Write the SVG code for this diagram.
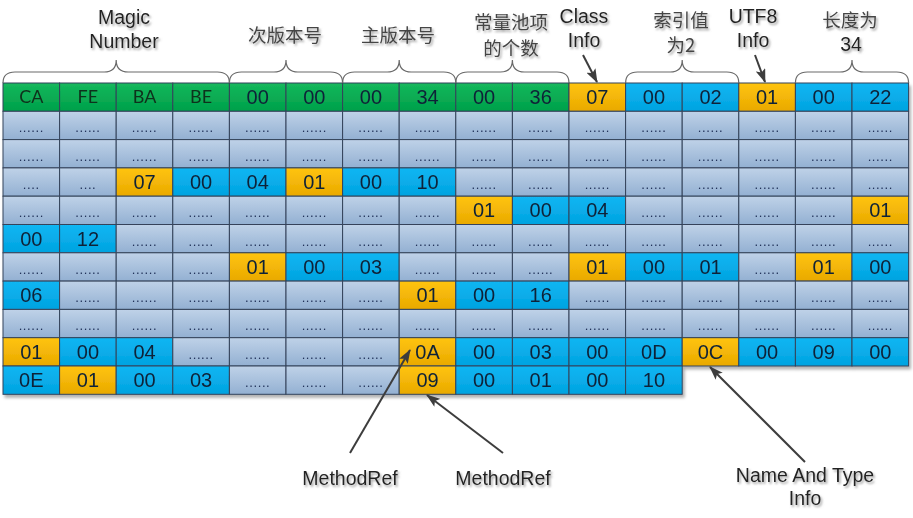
<svg xmlns="http://www.w3.org/2000/svg" width="913" height="518" viewBox="0 0 913 518">
<defs>
<linearGradient id="gg" x1="0" y1="0" x2="0" y2="1"><stop offset="0" stop-color="#BFD2E8"/><stop offset="1" stop-color="#93B0D2"/></linearGradient>
<linearGradient id="gG" x1="0" y1="0" x2="0" y2="1"><stop offset="0" stop-color="#14B85C"/><stop offset="1" stop-color="#00A04A"/></linearGradient>
<linearGradient id="gO" x1="0" y1="0" x2="0" y2="1"><stop offset="0" stop-color="#FFC410"/><stop offset="1" stop-color="#E9A900"/></linearGradient>
<linearGradient id="gB" x1="0" y1="0" x2="0" y2="1"><stop offset="0" stop-color="#12B6F3"/><stop offset="1" stop-color="#00A3E0"/></linearGradient>
<filter id="sh" x="-2%" y="-2%" width="104%" height="106%"><feDropShadow dx="2" dy="3" stdDeviation="1.5" flood-color="#000" flood-opacity="0.3"/></filter>
<filter id="ts" x="-10%" y="-20%" width="130%" height="160%"><feDropShadow dx="1.5" dy="2" stdDeviation="0.8" flood-color="#888" flood-opacity="0.8"/></filter>
<marker id="ah" viewBox="0 0 14 10" refX="13" refY="5" markerWidth="14" markerHeight="10" markerUnits="userSpaceOnUse" orient="auto"><path d="M0,0 L14,5 L0,10 L3,5 z" fill="#3d3d3d"/></marker>
<style>
rect.c{width:56.6px;height:28.3px;stroke:#34435a;stroke-width:1}
.g{fill:url(#gg)}.gr{fill:url(#gG)}.o{fill:url(#gO)}.b{fill:url(#gB)}
text{font-family:"Liberation Sans",Arial,sans-serif;text-anchor:middle}
text.n{font-size:20px;fill:#0f2238}
text.h{font-family:Lato,"Liberation Sans",sans-serif;font-size:18px;fill:#10301c}
text.d{font-size:13px;letter-spacing:0.6px;fill:#22335a}
.lab text{font-size:19.5px;fill:#222}
.lab text.cjk{font-family:"Noto Sans CJK SC","Liberation Sans",sans-serif;font-size:18.5px;fill:#444}
.lab{filter:url(#ts)}
.brace path{fill:none;stroke:#6a6a6a;stroke-width:1.2}
.conn line{stroke:#3d3d3d;stroke-width:2;marker-end:url(#ah)}
</style>
</defs>
<rect width="913" height="518" fill="#fff"/>

<g id="grid" filter="url(#sh)">
<g id="row0" transform="translate(0,83)">
<g id="r0c0"><rect class="c gr" x="3"/><text class="h" x="31.3" y="20.3">CA</text></g>
<g id="r0c1"><rect class="c gr" x="59.6"/><text class="h" x="87.9" y="20.3">FE</text></g>
<g id="r0c2"><rect class="c gr" x="116.2"/><text class="h" x="144.5" y="20.3">BA</text></g>
<g id="r0c3"><rect class="c gr" x="172.8"/><text class="h" x="201.1" y="20.3">BE</text></g>
<g id="r0c4"><rect class="c gr" x="229.4"/><text class="n" x="257.7" y="21.2">00</text></g>
<g id="r0c5"><rect class="c gr" x="286"/><text class="n" x="314.3" y="21.2">00</text></g>
<g id="r0c6"><rect class="c gr" x="342.6"/><text class="n" x="370.9" y="21.2">00</text></g>
<g id="r0c7"><rect class="c gr" x="399.2"/><text class="n" x="427.5" y="21.2">34</text></g>
<g id="r0c8"><rect class="c gr" x="455.8"/><text class="n" x="484.1" y="21.2">00</text></g>
<g id="r0c9"><rect class="c gr" x="512.4"/><text class="n" x="540.7" y="21.2">36</text></g>
<g id="r0c10"><rect class="c o" x="569"/><text class="n" x="597.3" y="21.2">07</text></g>
<g id="r0c11"><rect class="c b" x="625.6"/><text class="n" x="653.9" y="21.2">00</text></g>
<g id="r0c12"><rect class="c b" x="682.2"/><text class="n" x="710.5" y="21.2">02</text></g>
<g id="r0c13"><rect class="c o" x="738.8"/><text class="n" x="767.1" y="21.2">01</text></g>
<g id="r0c14"><rect class="c b" x="795.4"/><text class="n" x="823.7" y="21.2">00</text></g>
<g id="r0c15"><rect class="c b" x="852"/><text class="n" x="880.3" y="21.2">22</text></g>
</g>
<g id="row1" transform="translate(0,111.3)">
<g id="r1c0"><rect class="c g" x="3"/><text class="d" x="31.3" y="21">......</text></g>
<g id="r1c1"><rect class="c g" x="59.6"/><text class="d" x="87.9" y="21">......</text></g>
<g id="r1c2"><rect class="c g" x="116.2"/><text class="d" x="144.5" y="21">......</text></g>
<g id="r1c3"><rect class="c g" x="172.8"/><text class="d" x="201.1" y="21">......</text></g>
<g id="r1c4"><rect class="c g" x="229.4"/><text class="d" x="257.7" y="21">......</text></g>
<g id="r1c5"><rect class="c g" x="286"/><text class="d" x="314.3" y="21">......</text></g>
<g id="r1c6"><rect class="c g" x="342.6"/><text class="d" x="370.9" y="21">......</text></g>
<g id="r1c7"><rect class="c g" x="399.2"/><text class="d" x="427.5" y="21">......</text></g>
<g id="r1c8"><rect class="c g" x="455.8"/><text class="d" x="484.1" y="21">......</text></g>
<g id="r1c9"><rect class="c g" x="512.4"/><text class="d" x="540.7" y="21">......</text></g>
<g id="r1c10"><rect class="c g" x="569"/><text class="d" x="597.3" y="21">......</text></g>
<g id="r1c11"><rect class="c g" x="625.6"/><text class="d" x="653.9" y="21">......</text></g>
<g id="r1c12"><rect class="c g" x="682.2"/><text class="d" x="710.5" y="21">......</text></g>
<g id="r1c13"><rect class="c g" x="738.8"/><text class="d" x="767.1" y="21">......</text></g>
<g id="r1c14"><rect class="c g" x="795.4"/><text class="d" x="823.7" y="21">......</text></g>
<g id="r1c15"><rect class="c g" x="852"/><text class="d" x="880.3" y="21">......</text></g>
</g>
<g id="row2" transform="translate(0,139.6)">
<g id="r2c0"><rect class="c g" x="3"/><text class="d" x="31.3" y="21">......</text></g>
<g id="r2c1"><rect class="c g" x="59.6"/><text class="d" x="87.9" y="21">......</text></g>
<g id="r2c2"><rect class="c g" x="116.2"/><text class="d" x="144.5" y="21">......</text></g>
<g id="r2c3"><rect class="c g" x="172.8"/><text class="d" x="201.1" y="21">......</text></g>
<g id="r2c4"><rect class="c g" x="229.4"/><text class="d" x="257.7" y="21">......</text></g>
<g id="r2c5"><rect class="c g" x="286"/><text class="d" x="314.3" y="21">......</text></g>
<g id="r2c6"><rect class="c g" x="342.6"/><text class="d" x="370.9" y="21">......</text></g>
<g id="r2c7"><rect class="c g" x="399.2"/><text class="d" x="427.5" y="21">......</text></g>
<g id="r2c8"><rect class="c g" x="455.8"/><text class="d" x="484.1" y="21">......</text></g>
<g id="r2c9"><rect class="c g" x="512.4"/><text class="d" x="540.7" y="21">......</text></g>
<g id="r2c10"><rect class="c g" x="569"/><text class="d" x="597.3" y="21">......</text></g>
<g id="r2c11"><rect class="c g" x="625.6"/><text class="d" x="653.9" y="21">......</text></g>
<g id="r2c12"><rect class="c g" x="682.2"/><text class="d" x="710.5" y="21">......</text></g>
<g id="r2c13"><rect class="c g" x="738.8"/><text class="d" x="767.1" y="21">......</text></g>
<g id="r2c14"><rect class="c g" x="795.4"/><text class="d" x="823.7" y="21">......</text></g>
<g id="r2c15"><rect class="c g" x="852"/><text class="d" x="880.3" y="21">......</text></g>
</g>
<g id="row3" transform="translate(0,167.9)">
<g id="r3c0"><rect class="c g" x="3"/><text class="d" x="31.3" y="21">....</text></g>
<g id="r3c1"><rect class="c g" x="59.6"/><text class="d" x="87.9" y="21">....</text></g>
<g id="r3c2"><rect class="c o" x="116.2"/><text class="n" x="144.5" y="21.2">07</text></g>
<g id="r3c3"><rect class="c b" x="172.8"/><text class="n" x="201.1" y="21.2">00</text></g>
<g id="r3c4"><rect class="c b" x="229.4"/><text class="n" x="257.7" y="21.2">04</text></g>
<g id="r3c5"><rect class="c o" x="286"/><text class="n" x="314.3" y="21.2">01</text></g>
<g id="r3c6"><rect class="c b" x="342.6"/><text class="n" x="370.9" y="21.2">00</text></g>
<g id="r3c7"><rect class="c b" x="399.2"/><text class="n" x="427.5" y="21.2">10</text></g>
<g id="r3c8"><rect class="c g" x="455.8"/><text class="d" x="484.1" y="21">......</text></g>
<g id="r3c9"><rect class="c g" x="512.4"/><text class="d" x="540.7" y="21">......</text></g>
<g id="r3c10"><rect class="c g" x="569"/><text class="d" x="597.3" y="21">......</text></g>
<g id="r3c11"><rect class="c g" x="625.6"/><text class="d" x="653.9" y="21">......</text></g>
<g id="r3c12"><rect class="c g" x="682.2"/><text class="d" x="710.5" y="21">......</text></g>
<g id="r3c13"><rect class="c g" x="738.8"/><text class="d" x="767.1" y="21">......</text></g>
<g id="r3c14"><rect class="c g" x="795.4"/><text class="d" x="823.7" y="21">......</text></g>
<g id="r3c15"><rect class="c g" x="852"/><text class="d" x="880.3" y="21">......</text></g>
</g>
<g id="row4" transform="translate(0,196.2)">
<g id="r4c0"><rect class="c g" x="3"/><text class="d" x="31.3" y="21">......</text></g>
<g id="r4c1"><rect class="c g" x="59.6"/><text class="d" x="87.9" y="21">......</text></g>
<g id="r4c2"><rect class="c g" x="116.2"/><text class="d" x="144.5" y="21">......</text></g>
<g id="r4c3"><rect class="c g" x="172.8"/><text class="d" x="201.1" y="21">......</text></g>
<g id="r4c4"><rect class="c g" x="229.4"/><text class="d" x="257.7" y="21">......</text></g>
<g id="r4c5"><rect class="c g" x="286"/><text class="d" x="314.3" y="21">......</text></g>
<g id="r4c6"><rect class="c g" x="342.6"/><text class="d" x="370.9" y="21">......</text></g>
<g id="r4c7"><rect class="c g" x="399.2"/><text class="d" x="427.5" y="21">......</text></g>
<g id="r4c8"><rect class="c o" x="455.8"/><text class="n" x="484.1" y="21.2">01</text></g>
<g id="r4c9"><rect class="c b" x="512.4"/><text class="n" x="540.7" y="21.2">00</text></g>
<g id="r4c10"><rect class="c b" x="569"/><text class="n" x="597.3" y="21.2">04</text></g>
<g id="r4c11"><rect class="c g" x="625.6"/><text class="d" x="653.9" y="21">......</text></g>
<g id="r4c12"><rect class="c g" x="682.2"/><text class="d" x="710.5" y="21">......</text></g>
<g id="r4c13"><rect class="c g" x="738.8"/><text class="d" x="767.1" y="21">......</text></g>
<g id="r4c14"><rect class="c g" x="795.4"/><text class="d" x="823.7" y="21">......</text></g>
<g id="r4c15"><rect class="c o" x="852"/><text class="n" x="880.3" y="21.2">01</text></g>
</g>
<g id="row5" transform="translate(0,224.5)">
<g id="r5c0"><rect class="c b" x="3"/><text class="n" x="31.3" y="21.2">00</text></g>
<g id="r5c1"><rect class="c b" x="59.6"/><text class="n" x="87.9" y="21.2">12</text></g>
<g id="r5c2"><rect class="c g" x="116.2"/><text class="d" x="144.5" y="21">......</text></g>
<g id="r5c3"><rect class="c g" x="172.8"/><text class="d" x="201.1" y="21">......</text></g>
<g id="r5c4"><rect class="c g" x="229.4"/><text class="d" x="257.7" y="21">......</text></g>
<g id="r5c5"><rect class="c g" x="286"/><text class="d" x="314.3" y="21">......</text></g>
<g id="r5c6"><rect class="c g" x="342.6"/><text class="d" x="370.9" y="21">......</text></g>
<g id="r5c7"><rect class="c g" x="399.2"/><text class="d" x="427.5" y="21">......</text></g>
<g id="r5c8"><rect class="c g" x="455.8"/><text class="d" x="484.1" y="21">......</text></g>
<g id="r5c9"><rect class="c g" x="512.4"/><text class="d" x="540.7" y="21">......</text></g>
<g id="r5c10"><rect class="c g" x="569"/><text class="d" x="597.3" y="21">......</text></g>
<g id="r5c11"><rect class="c g" x="625.6"/><text class="d" x="653.9" y="21">......</text></g>
<g id="r5c12"><rect class="c g" x="682.2"/><text class="d" x="710.5" y="21">......</text></g>
<g id="r5c13"><rect class="c g" x="738.8"/><text class="d" x="767.1" y="21">......</text></g>
<g id="r5c14"><rect class="c g" x="795.4"/><text class="d" x="823.7" y="21">......</text></g>
<g id="r5c15"><rect class="c g" x="852"/><text class="d" x="880.3" y="21">......</text></g>
</g>
<g id="row6" transform="translate(0,252.8)">
<g id="r6c0"><rect class="c g" x="3"/><text class="d" x="31.3" y="21">......</text></g>
<g id="r6c1"><rect class="c g" x="59.6"/><text class="d" x="87.9" y="21">......</text></g>
<g id="r6c2"><rect class="c g" x="116.2"/><text class="d" x="144.5" y="21">......</text></g>
<g id="r6c3"><rect class="c g" x="172.8"/><text class="d" x="201.1" y="21">......</text></g>
<g id="r6c4"><rect class="c o" x="229.4"/><text class="n" x="257.7" y="21.2">01</text></g>
<g id="r6c5"><rect class="c b" x="286"/><text class="n" x="314.3" y="21.2">00</text></g>
<g id="r6c6"><rect class="c b" x="342.6"/><text class="n" x="370.9" y="21.2">03</text></g>
<g id="r6c7"><rect class="c g" x="399.2"/><text class="d" x="427.5" y="21">......</text></g>
<g id="r6c8"><rect class="c g" x="455.8"/><text class="d" x="484.1" y="21">......</text></g>
<g id="r6c9"><rect class="c g" x="512.4"/><text class="d" x="540.7" y="21">......</text></g>
<g id="r6c10"><rect class="c o" x="569"/><text class="n" x="597.3" y="21.2">01</text></g>
<g id="r6c11"><rect class="c b" x="625.6"/><text class="n" x="653.9" y="21.2">00</text></g>
<g id="r6c12"><rect class="c b" x="682.2"/><text class="n" x="710.5" y="21.2">01</text></g>
<g id="r6c13"><rect class="c g" x="738.8"/><text class="d" x="767.1" y="21">......</text></g>
<g id="r6c14"><rect class="c o" x="795.4"/><text class="n" x="823.7" y="21.2">01</text></g>
<g id="r6c15"><rect class="c b" x="852"/><text class="n" x="880.3" y="21.2">00</text></g>
</g>
<g id="row7" transform="translate(0,281.1)">
<g id="r7c0"><rect class="c b" x="3"/><text class="n" x="31.3" y="21.2">06</text></g>
<g id="r7c1"><rect class="c g" x="59.6"/><text class="d" x="87.9" y="21">......</text></g>
<g id="r7c2"><rect class="c g" x="116.2"/><text class="d" x="144.5" y="21">......</text></g>
<g id="r7c3"><rect class="c g" x="172.8"/><text class="d" x="201.1" y="21">......</text></g>
<g id="r7c4"><rect class="c g" x="229.4"/><text class="d" x="257.7" y="21">......</text></g>
<g id="r7c5"><rect class="c g" x="286"/><text class="d" x="314.3" y="21">......</text></g>
<g id="r7c6"><rect class="c g" x="342.6"/><text class="d" x="370.9" y="21">......</text></g>
<g id="r7c7"><rect class="c o" x="399.2"/><text class="n" x="427.5" y="21.2">01</text></g>
<g id="r7c8"><rect class="c b" x="455.8"/><text class="n" x="484.1" y="21.2">00</text></g>
<g id="r7c9"><rect class="c b" x="512.4"/><text class="n" x="540.7" y="21.2">16</text></g>
<g id="r7c10"><rect class="c g" x="569"/><text class="d" x="597.3" y="21">......</text></g>
<g id="r7c11"><rect class="c g" x="625.6"/><text class="d" x="653.9" y="21">......</text></g>
<g id="r7c12"><rect class="c g" x="682.2"/><text class="d" x="710.5" y="21">......</text></g>
<g id="r7c13"><rect class="c g" x="738.8"/><text class="d" x="767.1" y="21">......</text></g>
<g id="r7c14"><rect class="c g" x="795.4"/><text class="d" x="823.7" y="21">......</text></g>
<g id="r7c15"><rect class="c g" x="852"/><text class="d" x="880.3" y="21">......</text></g>
</g>
<g id="row8" transform="translate(0,309.4)">
<g id="r8c0"><rect class="c g" x="3"/><text class="d" x="31.3" y="21">......</text></g>
<g id="r8c1"><rect class="c g" x="59.6"/><text class="d" x="87.9" y="21">......</text></g>
<g id="r8c2"><rect class="c g" x="116.2"/><text class="d" x="144.5" y="21">......</text></g>
<g id="r8c3"><rect class="c g" x="172.8"/><text class="d" x="201.1" y="21">......</text></g>
<g id="r8c4"><rect class="c g" x="229.4"/><text class="d" x="257.7" y="21">......</text></g>
<g id="r8c5"><rect class="c g" x="286"/><text class="d" x="314.3" y="21">......</text></g>
<g id="r8c6"><rect class="c g" x="342.6"/><text class="d" x="370.9" y="21">......</text></g>
<g id="r8c7"><rect class="c g" x="399.2"/><text class="d" x="427.5" y="21">......</text></g>
<g id="r8c8"><rect class="c g" x="455.8"/><text class="d" x="484.1" y="21">......</text></g>
<g id="r8c9"><rect class="c g" x="512.4"/><text class="d" x="540.7" y="21">......</text></g>
<g id="r8c10"><rect class="c g" x="569"/><text class="d" x="597.3" y="21">......</text></g>
<g id="r8c11"><rect class="c g" x="625.6"/><text class="d" x="653.9" y="21">......</text></g>
<g id="r8c12"><rect class="c g" x="682.2"/><text class="d" x="710.5" y="21">......</text></g>
<g id="r8c13"><rect class="c g" x="738.8"/><text class="d" x="767.1" y="21">......</text></g>
<g id="r8c14"><rect class="c g" x="795.4"/><text class="d" x="823.7" y="21">......</text></g>
<g id="r8c15"><rect class="c g" x="852"/><text class="d" x="880.3" y="21">......</text></g>
</g>
<g id="row9" transform="translate(0,337.7)">
<g id="r9c0"><rect class="c o" x="3"/><text class="n" x="31.3" y="21.2">01</text></g>
<g id="r9c1"><rect class="c b" x="59.6"/><text class="n" x="87.9" y="21.2">00</text></g>
<g id="r9c2"><rect class="c b" x="116.2"/><text class="n" x="144.5" y="21.2">04</text></g>
<g id="r9c3"><rect class="c g" x="172.8"/><text class="d" x="201.1" y="21">......</text></g>
<g id="r9c4"><rect class="c g" x="229.4"/><text class="d" x="257.7" y="21">......</text></g>
<g id="r9c5"><rect class="c g" x="286"/><text class="d" x="314.3" y="21">......</text></g>
<g id="r9c6"><rect class="c g" x="342.6"/><text class="d" x="370.9" y="21">......</text></g>
<g id="r9c7"><rect class="c o" x="399.2"/><text class="n" x="427.5" y="21.2">0A</text></g>
<g id="r9c8"><rect class="c b" x="455.8"/><text class="n" x="484.1" y="21.2">00</text></g>
<g id="r9c9"><rect class="c b" x="512.4"/><text class="n" x="540.7" y="21.2">03</text></g>
<g id="r9c10"><rect class="c b" x="569"/><text class="n" x="597.3" y="21.2">00</text></g>
<g id="r9c11"><rect class="c b" x="625.6"/><text class="n" x="653.9" y="21.2">0D</text></g>
<g id="r9c12"><rect class="c o" x="682.2"/><text class="n" x="710.5" y="21.2">0C</text></g>
<g id="r9c13"><rect class="c b" x="738.8"/><text class="n" x="767.1" y="21.2">00</text></g>
<g id="r9c14"><rect class="c b" x="795.4"/><text class="n" x="823.7" y="21.2">09</text></g>
<g id="r9c15"><rect class="c b" x="852"/><text class="n" x="880.3" y="21.2">00</text></g>
</g>
<g id="row10" transform="translate(0,366)">
<g id="r10c0"><rect class="c b" x="3"/><text class="n" x="31.3" y="21.2">0E</text></g>
<g id="r10c1"><rect class="c o" x="59.6"/><text class="n" x="87.9" y="21.2">01</text></g>
<g id="r10c2"><rect class="c b" x="116.2"/><text class="n" x="144.5" y="21.2">00</text></g>
<g id="r10c3"><rect class="c b" x="172.8"/><text class="n" x="201.1" y="21.2">03</text></g>
<g id="r10c4"><rect class="c g" x="229.4"/><text class="d" x="257.7" y="21">......</text></g>
<g id="r10c5"><rect class="c g" x="286"/><text class="d" x="314.3" y="21">......</text></g>
<g id="r10c6"><rect class="c g" x="342.6"/><text class="d" x="370.9" y="21">......</text></g>
<g id="r10c7"><rect class="c o" x="399.2"/><text class="n" x="427.5" y="21.2">09</text></g>
<g id="r10c8"><rect class="c b" x="455.8"/><text class="n" x="484.1" y="21.2">00</text></g>
<g id="r10c9"><rect class="c b" x="512.4"/><text class="n" x="540.7" y="21.2">01</text></g>
<g id="r10c10"><rect class="c b" x="569"/><text class="n" x="597.3" y="21.2">00</text></g>
<g id="r10c11"><rect class="c b" x="625.6"/><text class="n" x="653.9" y="21.2">10</text></g>
</g>
</g>

<g id="braces" class="brace">
<path d="M3,83 Q3,72 15,72 L104.2,72 Q116.2,72 116.2,60 Q116.2,72 128.2,72 L217.4,72 Q229.4,72 229.4,83"/>
<path d="M229.4,83 Q229.4,72 241.4,72 L274,72 Q286,72 286,60 Q286,72 298,72 L330.6,72 Q342.6,72 342.6,83"/>
<path d="M342.6,83 Q342.6,72 354.6,72 L387.2,72 Q399.2,72 399.2,60 Q399.2,72 411.2,72 L443.8,72 Q455.8,72 455.8,83"/>
<path d="M455.8,83 Q455.8,72 467.8,72 L500.4,72 Q512.4,72 512.4,60 Q512.4,72 524.4,72 L557,72 Q569,72 569,83"/>
<path d="M625.6,83 Q625.6,72 637.6,72 L670.2,72 Q682.2,72 682.2,60 Q682.2,72 694.2,72 L726.8,72 Q738.8,72 738.8,83"/>
<path d="M795.4,83 Q795.4,72 807.4,72 L840,72 Q852,72 852,60 Q852,72 864,72 L896.6,72 Q908.6,72 908.6,83"/>
</g>

<g id="connectors" class="conn">
<line x1="583" y1="55" x2="597" y2="82"/>
<line x1="755" y1="55" x2="765" y2="82"/>
<line x1="350" y1="453" x2="410" y2="350"/>
<line x1="503" y1="453" x2="427" y2="395"/>
<line x1="805" y1="462" x2="710" y2="367"/>
</g>

<g id="lbl-magic" class="lab"><text x="124" y="24">Magic</text><text x="124" y="47.5">Number</text></g>
<g id="lbl-minor" class="lab"><text class="cjk" x="285" y="41.5">次版本号</text></g>
<g id="lbl-major" class="lab"><text class="cjk" x="398" y="41.5">主版本号</text></g>
<g id="lbl-count" class="lab"><text class="cjk" x="511" y="28.5">常量池项</text><text class="cjk" x="511" y="55">的个数</text></g>
<g id="lbl-class" class="lab"><text x="584" y="23">Class</text><text x="584" y="47">Info</text></g>
<g id="lbl-index" class="lab"><text class="cjk" x="681" y="26.5">索引值</text><text class="cjk" x="681" y="51.5">为2</text></g>
<g id="lbl-utf8" class="lab"><text x="753" y="23">UTF8</text><text x="753" y="47">Info</text></g>
<g id="lbl-len" class="lab"><text class="cjk" x="850" y="26.5">长度为</text><text x="851" y="51">34</text></g>
<g id="lbl-mref1" class="lab"><text x="350" y="485">MethodRef</text></g>
<g id="lbl-mref2" class="lab"><text x="503" y="485">MethodRef</text></g>
<g id="lbl-nat" class="lab"><text x="805" y="482">Name And Type</text><text x="805" y="505">Info</text></g>
</svg>
